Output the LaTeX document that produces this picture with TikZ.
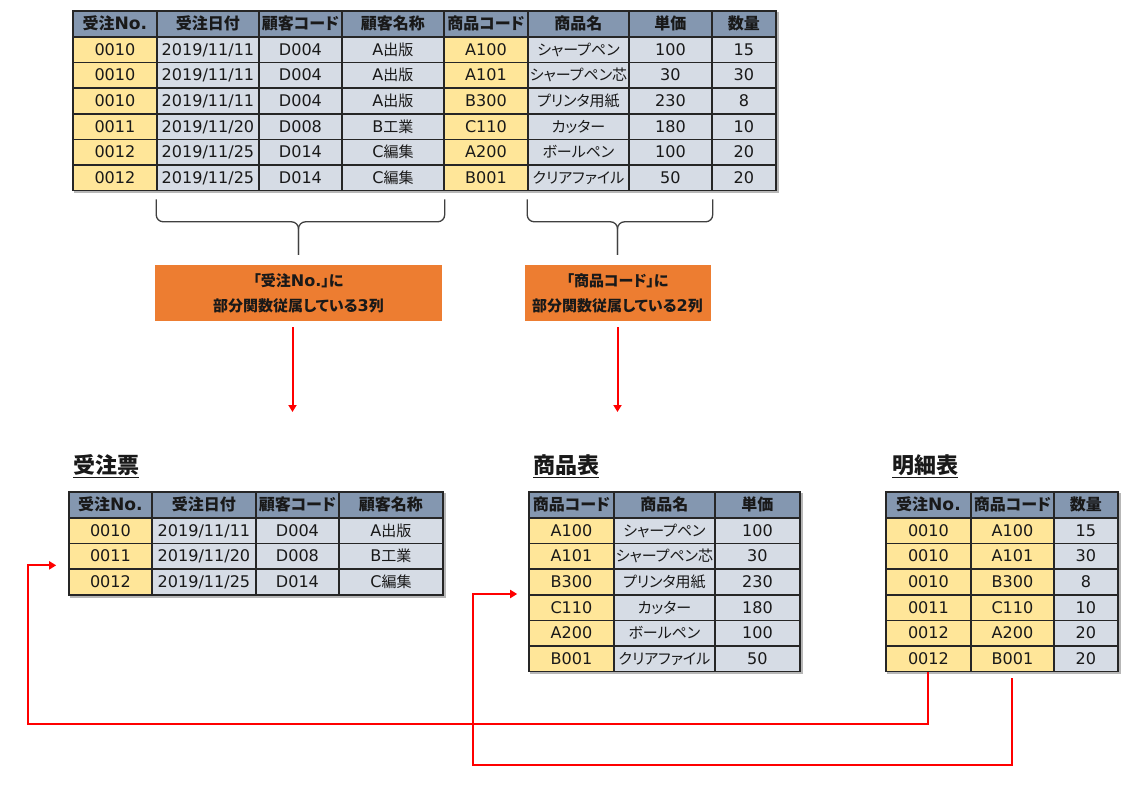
\documentclass[tikz,border=0pt]{standalone}
\usepackage{fontspec}
\setmainfont{Noto Sans CJK JP}[RawFeature=+palt]
\newfontfamily\latinfont{DejaVu Sans}[Scale=1.07]
\newcommand{\asc}[1]{{\latinfont #1}}
\usetikzlibrary{arrows.meta, positioning, calc, matrix, shadows}
\definecolor{HeadBlue}{RGB}{132,151,176}
\definecolor{RowGray}{RGB}{214,220,229}
\definecolor{KeyYellow}{RGB}{255,230,153}
\definecolor{BoxOrange}{RGB}{237,125,49}
\definecolor{FlowRed}{RGB}{255,0,0}

\begin{document}
\begin{tikzpicture}[x=1pt, y=-1pt,
    cell/.style={draw=black!85, line width=1.5pt, fill=RowGray, minimum height=25.6,
      inner sep=0pt, text height=11pt, text depth=0pt, text=black!90,
      font=\fontsize{15}{17}\selectfont},
    lat/.style={font=\latinfont\fontsize{15}{17}\selectfont},
    key/.style={fill=KeyYellow},
    head/.style={fill=HeadBlue, minimum height=26, font=\bfseries\fontsize{16}{18}\selectfont},
    tbl/.style={matrix of nodes, inner sep=0pt, column sep=-1.5pt, row sep=-1.5pt,
      nodes={cell}, row 1/.style={nodes={head}}, anchor=north west,
      drop shadow={shadow xshift=2pt, shadow yshift=-2pt, opacity=.4, fill=black!70}},
    title/.style={anchor=west, inner sep=0pt, text=black!90, font=\bfseries\fontsize{22}{24}\selectfont},
    uline/.style={draw=black!90, line width=1.3pt},
    note/.style={fill=BoxOrange, text=black!90, align=center, inner sep=0pt,
      font=\bfseries\fontsize{15}{25}\selectfont},
    brace/.style={draw=black!75, line width=1.3pt, rounded corners=7pt},
    flow/.style={draw=FlowRed, line width=2pt, -{Triangle[width=8pt,length=7pt]}}]
  \useasboundingbox (0,0) rectangle (1144,808);

  \matrix (order) [tbl,
      column 1/.style={nodes={key, lat, minimum width=84}},
      column 2/.style={nodes={lat, minimum width=102}},
      column 3/.style={nodes={lat, minimum width=83}},
      column 4/.style={nodes={minimum width=102}},
      column 5/.style={nodes={key, lat, minimum width=84}},
      column 6/.style={nodes={minimum width=101}},
      column 7/.style={nodes={lat, minimum width=83}},
      column 8/.style={nodes={lat, minimum width=64}}] at (72,10) {
    受注\asc{No.} & 受注日付 & 顧客コード & 顧客名称 & 商品コード & 商品名 & 単価 & 数量 \\
    0010 & 2019/11/11 & D004 & \asc{A}出版 & A100 & シャープペン & 100 & 15 \\
    0010 & 2019/11/11 & D004 & \asc{A}出版 & A101 & シャープペン芯 & 30 & 30 \\
    0010 & 2019/11/11 & D004 & \asc{A}出版 & B300 & プリンタ用紙 & 230 & 8 \\
    0011 & 2019/11/20 & D008 & \asc{B}工業 & C110 & カッター & 180 & 10 \\
    0012 & 2019/11/25 & D014 & \asc{C}編集 & A200 & ボールペン & 100 & 20 \\
    0012 & 2019/11/25 & D014 & \asc{C}編集 & B001 & クリアファイル & 50 & 20 \\
  };

  \node[note, minimum width=287, minimum height=56] (jbox) at (298.5,293)
    {「受注\asc{No.}」に\\部分関数従属している\asc{3}列};
  \node[note, minimum width=186, minimum height=56] (gbox) at (617.5,293)
    {「商品コード」に\\部分関数従属している\asc{2}列};

  \draw[brace] ($(order-7-2.south west)+(0,8)$) |- ($(jbox.north)+(0,-43)$) -- ($(jbox.north)+(0,-10)$);
  \draw[brace] ($(order-7-4.south east)+(0,8)$) |- ($(jbox.north)+(0,-43)$) -- ($(jbox.north)+(0,-10)$);
  \draw[brace] ($(order-7-6.south west)+(0,8)$) |- ($(gbox.north)+(0,-43)$) -- ($(gbox.north)+(0,-10)$);
  \draw[brace] ($(order-7-7.south east)+(0,8)$) |- ($(gbox.north)+(0,-43)$) -- ($(gbox.north)+(0,-10)$);

  \coordinate (jtip) at (292.5,412);
  \coordinate (gtip) at (617.5,412);
  \draw[flow] ([shift={(-6,6)}]jbox.south) -- (jtip);
  \draw[flow] ([shift={(0,6)}]gbox.south) -- (gtip);

  \node[title] (slipT) at (73,465) {受注票};
  \node[title] (goodsT) at (533,465) {商品表};
  \node[title] (detailT) at (892,465) {明細表};
  \draw[uline] ([yshift=-1.5pt]slipT.south west) -- ([yshift=-1.5pt]slipT.south east);
  \draw[uline] ([yshift=-1.5pt]goodsT.south west) -- ([yshift=-1.5pt]goodsT.south east);
  \draw[uline] ([yshift=-1.5pt]detailT.south west) -- ([yshift=-1.5pt]detailT.south east);

  \matrix (slip) [tbl,
      column 1/.style={nodes={key, lat, minimum width=83}},
      column 2/.style={nodes={lat, minimum width=104}},
      column 3/.style={nodes={lat, minimum width=83}},
      column 4/.style={nodes={minimum width=104}}] at (68,491) {
    受注\asc{No.} & 受注日付 & 顧客コード & 顧客名称 \\
    0010 & 2019/11/11 & D004 & \asc{A}出版 \\
    0011 & 2019/11/20 & D008 & \asc{B}工業 \\
    0012 & 2019/11/25 & D014 & \asc{C}編集 \\
  };

  \matrix (goods) [tbl,
      column 1/.style={nodes={key, lat, minimum width=85}},
      column 2/.style={nodes={minimum width=101}},
      column 3/.style={nodes={lat, minimum width=85}}] at (528,491) {
    商品コード & 商品名 & 単価 \\
    A100 & シャープペン & 100 \\
    A101 & シャープペン芯 & 30 \\
    B300 & プリンタ用紙 & 230 \\
    C110 & カッター & 180 \\
    A200 & ボールペン & 100 \\
    B001 & クリアファイル & 50 \\
  };

  \matrix (detail) [tbl,
      column 1/.style={nodes={key, lat, minimum width=85}},
      column 2/.style={nodes={key, lat, minimum width=83}},
      column 3/.style={nodes={lat, minimum width=64}}] at (885,491) {
    受注\asc{No.} & 商品コード & 数量 \\
    0010 & A100 & 15 \\
    0010 & A101 & 30 \\
    0010 & B300 & 8 \\
    0011 & C110 & 10 \\
    0012 & A200 & 20 \\
    0012 & B001 & 20 \\
  };

  \coordinate (loopA) at (28,724);
  \coordinate (loopB) at (473,765);
  \coordinate (slipIn) at ($(slip-3-1.west)+(-12,9)$);
  \coordinate (goodsIn) at ($(goods-5-1.north west)+(-11,0)$);
  \draw[flow] (detail-7-1.south) |- (loopA) |- (slipIn);
  \draw[flow] ([yshift=-6pt]detail-7-2.south) |- (loopB) |- (goodsIn);
\end{tikzpicture}
\end{document}
